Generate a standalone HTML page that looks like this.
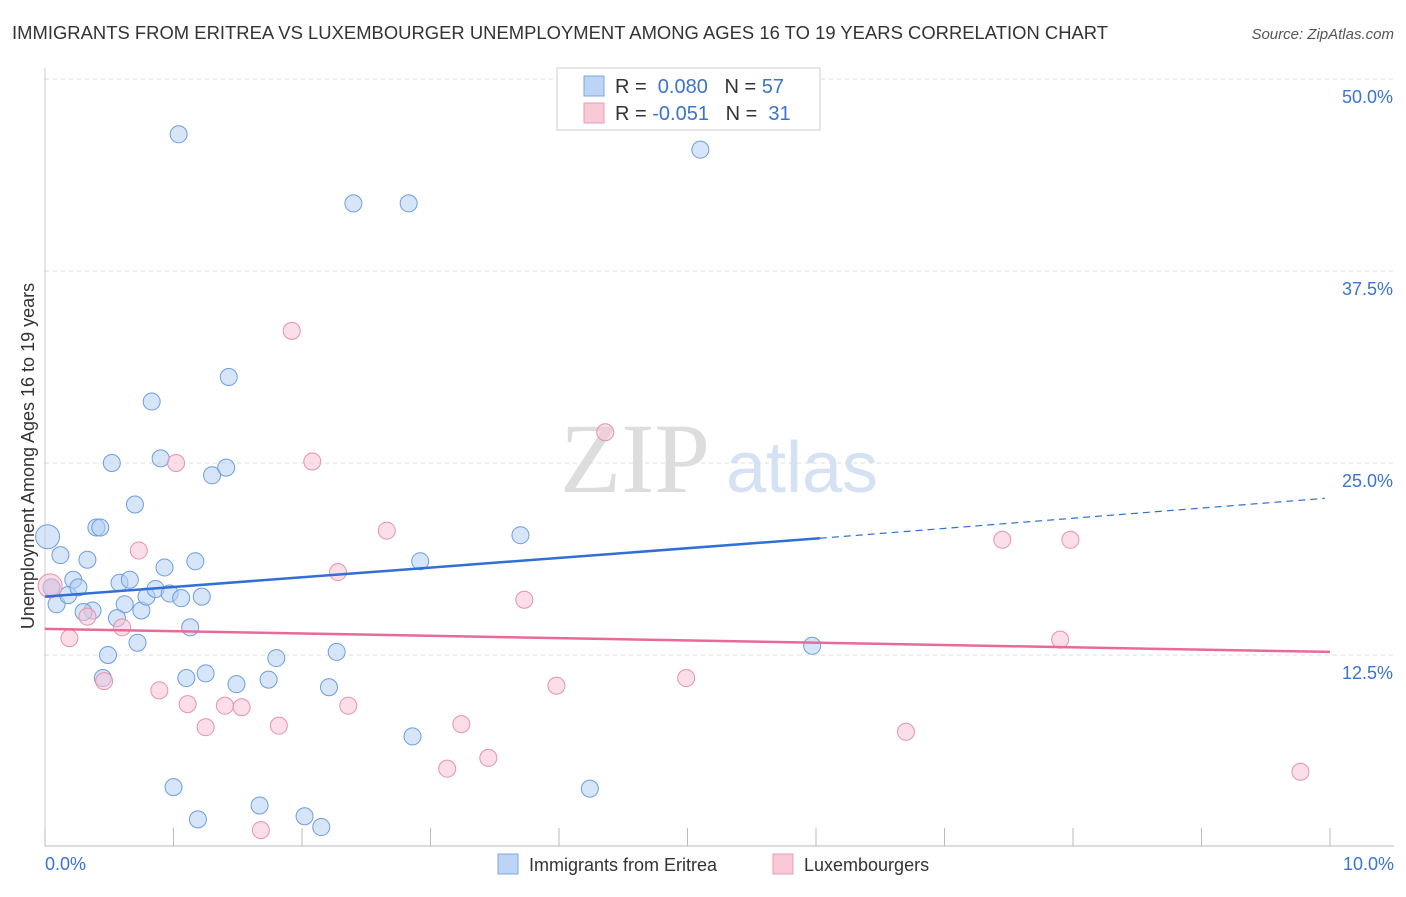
<!DOCTYPE html>
<html><head><meta charset="utf-8"><style>
body{margin:0;background:#fff;font-family:"Liberation Sans",sans-serif}
svg text{font-family:"Liberation Sans",sans-serif}
</style></head><body>
<svg id="c" width="1406" height="892">
<text x="12" y="39" font-size="18.4" fill="#333" textLength="1096">IMMIGRANTS FROM ERITREA VS LUXEMBOURGER UNEMPLOYMENT AMONG AGES 16 TO 19 YEARS CORRELATION CHART</text>
<text x="1394" y="39" font-size="15" fill="#555" text-anchor="end" font-style="italic">Source: ZipAtlas.com</text>
<text x="635" y="492" font-size="100" fill="#ddd" style="font-family:'Liberation Serif',serif" text-anchor="middle">ZIP</text>
<text x="802" y="492" font-size="72" fill="#d5e2f3" text-anchor="middle">atlas</text>
<g id="grid"></g><g id="pts"></g><g id="lines"></g>
<text transform="translate(34,456) rotate(-90)" font-size="18" fill="#333" text-anchor="middle">Unemployment Among Ages 16 to 19 years</text>
<text x="45" y="870" font-size="18" fill="#3b73d1">0.0%</text>
<text x="1394" y="870" font-size="18" fill="#3b73d1" text-anchor="end">10.0%</text>
<g>
<rect x="557" y="68" width="263" height="62" fill="#fff" stroke="#ccc"/>
<rect x="584" y="76" width="20" height="20" fill="#bcd4f5" stroke="#7fa7e0"/>
<rect x="584" y="103" width="20" height="20" fill="#f9c9d7" stroke="#eb9cb5"/>
<text x="615" y="93" font-size="20" fill="#333">R = <tspan fill="#3b73d1">&#160;0.080</tspan>&#160;&#160;&#160;N = <tspan fill="#3b73d1">57</tspan></text>
<text x="615" y="120" font-size="20" fill="#333">R = <tspan fill="#3b73d1">-0.051</tspan>&#160;&#160;&#160;N = <tspan fill="#3b73d1">&#160;31</tspan></text>
</g>
<g>
<rect x="498" y="854" width="20" height="20" fill="#bcd4f5" stroke="#7fa7e0"/>
<text x="529" y="871" font-size="18" fill="#333">Immigrants from Eritrea</text>
<rect x="773" y="854" width="20" height="20" fill="#f9c9d7" stroke="#eb9cb5"/>
<text x="804" y="871" font-size="18" fill="#333">Luxembourgers</text>
</g>
</svg>
<script>
const yTicks=[12.5,25,37.5,50];
const xTicks=[0,1,2,3,4,5,6,7,8,9,10];
const blueX=[0.02,0.12,0.05,0.09,0.18,0.22,0.26,0.33,0.37,0.30,0.40,0.43,0.52,0.70,0.58,0.66,0.62,0.56,0.75,0.79,0.86,0.93,0.97,1.06,1.17,1.22,1.13,0.49,0.72,0.45,1.10,1.25,1.49,1.74,1.80,2.21,2.27,0.83,0.90,1.30,1.41,1.43,1.04,2.40,2.83,5.10,2.92,3.70,5.97,2.86,1.00,1.19,1.67,2.02,2.15,4.24,0.05];
const blueY=[20.2,19.0,16.9,15.8,16.4,17.4,16.9,18.7,15.4,15.3,20.8,20.8,25.0,22.3,17.2,17.4,15.8,14.9,15.4,16.3,16.8,18.2,16.5,16.2,18.6,16.3,14.3,12.5,13.3,11.0,11.0,11.3,10.6,10.9,12.3,10.4,12.7,29.0,25.3,24.2,24.7,30.6,46.4,41.9,41.9,45.4,18.6,20.3,13.1,7.2,3.9,1.8,2.7,2.0,1.3,3.8,16.9];
const pinkX=[0.04,0.19,0.33,0.46,0.60,0.73,0.89,1.02,1.11,1.25,1.40,1.53,1.68,1.82,1.92,2.08,2.28,2.36,2.66,3.13,3.24,3.45,3.73,3.98,4.36,4.99,6.70,7.45,7.98,7.90,9.77];
const pinkY=[17.0,13.6,15.0,10.8,14.3,19.3,10.2,25.0,9.3,7.8,9.2,9.1,1.1,7.9,33.6,25.1,17.9,9.2,20.6,5.1,8.0,5.8,16.1,10.5,27.0,11.0,7.5,20.0,20.0,13.5,4.9];
const X=v=>45+v*128.5, Y=v=>847-v*15.36;
const NS='http://www.w3.org/2000/svg';
const g=document.getElementById('grid'),p=document.getElementById('pts'),l=document.getElementById('lines');
function mk(par,tag,at){const e=document.createElementNS(NS,tag);for(const k in at)e.setAttribute(k,at[k]);par.appendChild(e);return e;}
yTicks.forEach(t=>{
const ln=mk(g,'line',{x1:45,x2:1394,y1:Y(t),y2:Y(t),stroke:'#ddd','stroke-dasharray':'4,4'});


const tx=mk(g,'text',{x:1393,y:Y(t)+24,'font-size':18,fill:'#3b73d1','text-anchor':'end'});tx.textContent=t.toFixed(1)+'%';


});
mk(g,'line',{x1:45,x2:1394,y1:846,y2:846,stroke:'#bbb'});
mk(g,'line',{x1:45,x2:45,y1:68,y2:846,stroke:'#ccc'});
xTicks.forEach(t=>{const tk=mk(g,'line',{x1:X(t),x2:X(t),y1:828,y2:846,stroke:'#bbb'});

});
function dots(xs,ys,fill,stroke,name){xs.forEach((x,i)=>{const r=(i==0)?12:8.5;
const c=mk(p,'circle',{cx:X(x),cy:Y(ys[i]),r:r,fill:fill,'fill-opacity':0.55,stroke:stroke,'stroke-width':1});

});}
dots(blueX,blueY,'#b5cff3','#6d9de0','eritrea-point');
dots(pinkX,pinkY,'#f7c3d3','#e891ae','luxembourger-point');
const bl=mk(l,'line',{x1:X(0),y1:Y(16.3),x2:X(6.03),y2:Y(20.1),stroke:'#2f6fd6','stroke-width':2.5});


const bd=mk(l,'line',{x1:X(6.03),y1:Y(20.1),x2:X(9.96),y2:Y(22.7),stroke:'#2f6fd6','stroke-width':1.2,'stroke-dasharray':'7,5'});


const pl=mk(l,'line',{x1:X(0),y1:Y(14.2),x2:X(10),y2:Y(12.7),stroke:'#e8699a','stroke-width':2.5});


</script>
</body></html>
